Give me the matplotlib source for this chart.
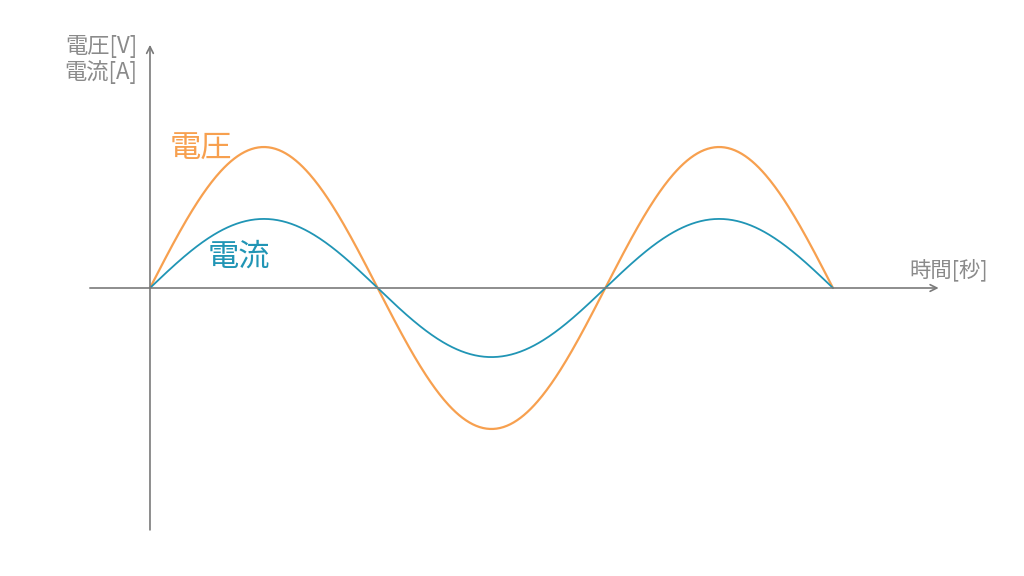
import numpy as np
import matplotlib
matplotlib.use("Agg")
import matplotlib.pyplot as plt

plt.rcParams['font.family'] = ['Noto Sans CJK JP', 'DejaVu Sans']

# Data (schematic sine waves)
voltage_amplitude = 1.0
current_amplitude = 0.49
cycles = 1.5
voltage_label = "電圧"
current_label = "電流"
y_axis_label = "電圧[V]\n電流[A]"
x_axis_label = "時間[秒]"

orange = "#F7A04F"
blue = "#2095B5"
gray = "#7a7a7a"

fig = plt.figure(figsize=(10.24, 5.76), dpi=100)
ax = fig.add_axes([0, 0, 1, 1])
ax.set_xlim(-0.3294, 1.9195)
ax.set_ylim(-2.043, 2.043)
ax.axis('off')

t = np.linspace(0, cycles, 600)
ax.plot(t, voltage_amplitude * np.sin(2 * np.pi * t), color=orange, lw=1.6, solid_capstyle='round')
ax.plot(t, current_amplitude * np.sin(2 * np.pi * t), color=blue, lw=1.3, solid_capstyle='round')

# axes arrows
ax.annotate("", xy=(1.732, 0), xytext=(-0.132, 0),
            arrowprops=dict(arrowstyle="->", color=gray, lw=1.2, mutation_scale=12, shrinkA=0, shrinkB=0))
ax.annotate("", xy=(0, 1.725), xytext=(0, -1.716),
            arrowprops=dict(arrowstyle="->", color=gray, lw=1.2, mutation_scale=12, shrinkA=0, shrinkB=0))

ax.text(-0.028, 1.62, y_axis_label, color="#8a8a8a", fontsize=16, ha='right', va='center',
        linespacing=1.15)
ax.text(1.8405, 0.128, x_axis_label, color="#8a8a8a", fontsize=15.4, ha='right', va='center')
ax.text(0.044, 0.99, voltage_label, color=orange, fontsize=22.5, ha='left', va='center')
ax.text(0.127, 0.22, current_label, color=blue, fontsize=22.5, ha='left', va='center')

fig.savefig("out.png", dpi=100)
